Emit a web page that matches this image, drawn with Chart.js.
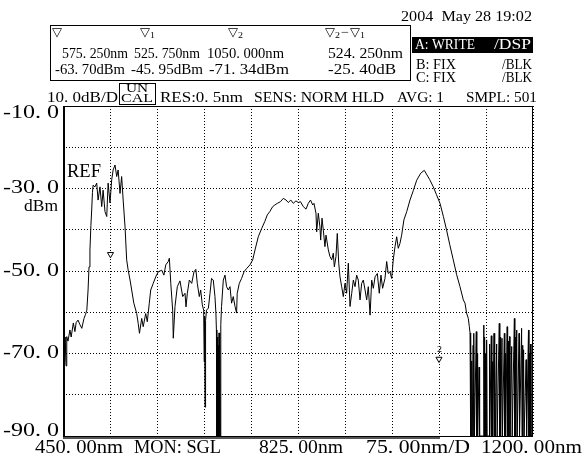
<!DOCTYPE html>
<html>
<head>
<meta charset="utf-8">
<script src="https://cdn.jsdelivr.net/npm/chart.js@4.4.1/dist/chart.umd.min.js"></script>
<style>
  body { margin: 0; background: #fff; }
  #wrap { width: 585px; height: 464px; }
</style>
</head>
<body>
<div id="wrap"><canvas id="osa" width="585" height="464"></canvas></div>
<script>
const wavelength = [
  450.0, 450.6, 451.6, 452.5, 453.5, 454.8, 456, 458, 461, 463,
  466.5, 469, 471, 474, 477, 480, 483.5, 486, 488, 490,
  491.5, 493, 494.5, 495.8, 497, 498, 501, 503.8, 506, 509,
  511.8, 514, 517, 519.8, 522, 525, 527.7, 530, 533, 535.7,
  538, 541, 543.6, 546, 549, 551.6, 554, 557, 559.6, 563,
  567.6, 570, 572, 575.6, 578, 582, 584.5, 587.7, 590, 594,
  598, 602, 607.5, 611, 614, 618, 619.7, 622, 625, 626,
  628.7, 632.4, 636.7, 641, 644.7, 646.3, 648.4, 651.6, 655.4, 659,
  662, 664.3, 667.5, 669.7, 672.3, 674.5, 675.3, 676, 676.6, 677.2,
  677.8, 679, 682, 684.6, 687, 689.8, 692.5, 694, 694.8, 695.5,
  696.2, 696.9, 697.6, 698.3, 699, 699.7, 700.4, 701.1, 701.8, 703,
  705.8, 708.5, 711, 713.8, 716.5, 719, 721.7, 724.5, 727, 728,
  731.3, 735, 738.8, 743, 748.4, 752.7, 756.4, 761.6, 767, 772,
  776, 780, 784.6, 788, 792, 797, 801.5, 806, 809.5, 813.5,
  817.5, 821.7, 825.5, 829, 833.5, 837.8, 841.4, 845, 848.5, 850.5,
  853.7, 854.8, 857.4, 860, 861.2, 863.3, 865.4, 868, 869.7, 873.4,
  876, 878.8, 881.3, 883, 885.6, 887.7, 890, 892, 894.7, 897.3,
  900, 902.6, 905.3, 908, 910.7, 913.3, 916, 918.6, 921.2, 924,
  926.6, 929.2, 932, 934.6, 937.2, 940, 942.6, 945.2, 948, 951.6,
  954.7, 957.4, 960, 963.8, 966.5, 969, 971.8, 974.5, 977, 979.8,
  982.5, 985, 987.7, 990.4, 994, 998.5, 1003.7, 1009, 1014.4, 1020.8,
  1026.5, 1030, 1035, 1040.9, 1046, 1051.6, 1057, 1062, 1067, 1072.8,
  1078, 1083.5, 1088.8, 1091.5, 1094, 1096.8, 1098.4, 1099.5, 1100.2, 1100.8,
  1101.5, 1102.2, 1103, 1104.5, 1105.2, 1105.8, 1106.5, 1109.5, 1110.3, 1110.9,
  1111.6, 1114, 1114.8, 1120.8, 1121.5, 1122.2, 1122.8, 1123.5, 1124.2, 1125,
  1126, 1126.8, 1130, 1130.5, 1131.2, 1133.5, 1134.3, 1135, 1135.7, 1137.8,
  1138.5, 1139.2, 1140, 1142, 1142.8, 1146.2, 1147, 1147.6, 1148.3, 1150.5,
  1151.2, 1154.3, 1155, 1155.6, 1156.3, 1158.8, 1159.5, 1160.2, 1161, 1162.5,
  1163.2, 1166, 1166.8, 1170.3, 1171, 1171.6, 1172.3, 1174, 1174.8, 1177.8,
  1178.5, 1181.8, 1182.5, 1183.2, 1184, 1185, 1185.8, 1189, 1189.8, 1192.8,
  1193.5, 1194.2, 1195, 1196, 1196.8, 1198.5, 1199.2, 1199.6, 1200
];
const power = [
  -90, -68, -67.5, -72, -66, -73, -65.9, -67, -64.3, -66,
  -62.6, -64.7, -62.5, -61.9, -63, -63.9, -61.5, -60.5, -59.5, -54.6,
  -49, -44.9, -39, -35.2, -31, -29.2, -29.6, -28.7, -32.8, -29.6,
  -34.4, -30.4, -35.6, -36.8, -28.7, -33.5, -27.9, -25.5, -24.3, -27.1,
  -25.5, -31.2, -27.1, -32.8, -39.3, -47.3, -49.8, -52.2, -54.6, -57.8,
  -60.3, -62.7, -65.1, -61.5, -63.5, -60.3, -62.3, -57.8, -54.6, -53,
  -51.4, -50.2, -49.8, -51, -48.5, -47.7, -46.9, -53, -59.5, -66.3,
  -58.6, -53.8, -52.4, -56.2, -55.4, -58.7, -55.4, -52.2, -53, -50.2,
  -49.6, -53, -56.2, -54.6, -58.2, -59.5, -72, -61, -83, -74,
  -62, -59.5, -59, -55.4, -51.8, -52.2, -56.2, -60.2, -64.3, -90,
  -66, -90, -68, -90, -65, -90, -67, -90, -63, -58.6,
  -52.2, -51, -53.8, -54.6, -53.8, -57.8, -56.2, -58.6, -60.2, -55.4,
  -53, -51.8, -50.2, -49.4, -48.5, -47.3, -44.9, -41.7, -39.7, -38,
  -36.4, -35.6, -34.4, -34, -33.6, -33.2, -32.4, -32.8, -33.4, -32.8,
  -33.6, -33, -33.4, -33.2, -34.4, -35, -33.6, -32.8, -34, -33.6,
  -36, -40.5, -36, -39.3, -42.5, -37.2, -40.1, -44.1, -41.3, -44.9,
  -46.5, -47.3, -45.7, -49, -46.5, -40.9, -48.1, -51.4, -53.8, -56.2,
  -53, -55.4, -48.1, -58.6, -55.4, -52.2, -53.8, -51, -52.2, -57,
  -53, -52.2, -54.6, -57, -53.8, -60.7, -52.2, -54.2, -51.4, -50.6,
  -55.4, -51, -54.2, -51.8, -47.7, -50.6, -50.2, -51.8, -47.3, -44.1,
  -41.7, -44.5, -43.3, -41.3, -37.6, -35.6, -32.8, -30.5, -28, -26.3,
  -25.6, -26.5, -27.8, -29.6, -31.5, -33.6, -36.8, -40, -43.5, -47.3,
  -50.8, -53.8, -57, -57.8, -60.2, -61.5, -63.5, -65, -90, -66,
  -90, -71.8, -90, -68, -90, -65.1, -90, -64.7, -90, -70,
  -90, -73.3, -90, -90, -63.1, -90, -66, -90, -70, -90,
  -66.7, -90, -90, -67.7, -90, -65.7, -90, -72, -90, -65.1,
  -90, -69, -90, -67.7, -90, -62.7, -90, -66, -90, -66.3,
  -90, -65.1, -90, -70, -90, -63.5, -90, -67, -90, -65.9,
  -90, -68.3, -90, -61.5, -90, -66, -90, -64.3, -90, -65.1,
  -90, -63.9, -90, -68, -90, -69.1, -90, -71.5, -90, -64.3,
  -90, -70, -90, -67.7, -90, -90, -62, -88, -64
];

// markers shown on the trace
const markerNm = [525.75, 1050.0];
const markerDbm = [-45.95, -71.34];
const markerTag = ['', '2'];

// axis
const yLabels = [-10, -30, -50, -70, -90];
const xMin = 450, xMax = 1200, xStep = 75;
const yMin = -90, yMax = -10, yStep = 10;

const FONT = '"Liberation Serif", "DejaVu Serif", serif';

// draws text squeezed/stretched between x1 and x2 (the OSA font is wide)
function put(ctx, s, x1, x2, y, size, color) {
  ctx.save();
  ctx.font = size + 'px ' + FONT;
  ctx.fillStyle = color || '#000';
  ctx.textBaseline = 'middle';
  ctx.textAlign = 'left';
  const w = ctx.measureText(s).width;
  ctx.translate(x1, y);
  ctx.scale((x2 - x1) / w, 1);
  ctx.fillText(s, 0, 0);
  ctx.restore();
}

function nabla(ctx, x, y, sub) {
  put(ctx, '▽', x, x + 10, y, 12);
  if (sub) put(ctx, sub, x + 10, x + 15, y + 3, 9);
}

const osaText = {
  id: 'osaText',
  afterDraw(chart) {
    const ctx = chart.ctx;
    const a = chart.chartArea;
    const ys = chart.scales.y;

    // frame
    ctx.save();
    ctx.strokeStyle = '#000';
    ctx.lineWidth = 1;
    ctx.strokeRect(a.left + 0.5, a.top + 0.5, a.right - a.left - 1, a.bottom - a.top);
    ctx.fillStyle = '#000';
    ctx.fillRect(a.left, a.top, 2, a.bottom - a.top + 1);
    ctx.fillStyle = '#555';
    ctx.fillRect(a.left, a.bottom + 1, 440 - a.left, 2);
    ctx.restore();

    // y labels
    yLabels.forEach(v => {
      let y = ys.getPixelForValue(v);
      y = Math.min(Math.max(y, a.top + 7), a.bottom - 5);
      put(ctx, v.toFixed(0) + '. 0', 3, 59, y, 18);
    });
    put(ctx, 'dBm', 24, 58, 207, 17);
    put(ctx, 'REF', 67, 101, 172, 18);

    // bottom line
    put(ctx, '450. 00nm', 35, 123, 448, 18);
    put(ctx, 'MON: SGL', 134, 221, 448, 18);
    put(ctx, '825. 00nm', 259, 343, 448, 18);
    put(ctx, '75. 00nm/D', 366, 470, 448, 18);
    put(ctx, '1200. 00nm', 481, 582, 448, 18);

    // header
    put(ctx, '2004  May 28 19:02', 401, 532, 17, 15);
    ctx.save();
    ctx.strokeStyle = '#000';
    ctx.strokeRect(50.5, 25.5, 360, 55);
    ctx.restore();
    nabla(ctx, 52, 33, '');
    nabla(ctx, 140, 33, '1');
    nabla(ctx, 228, 33, '2');
    nabla(ctx, 325, 33, '2');
    put(ctx, '−', 341, 349, 33, 12);
    nabla(ctx, 350, 33, '1');

    put(ctx, '575. 250nm', 62, 128, 54, 15);
    put(ctx, '525. 750nm', 134, 200, 54, 15);
    put(ctx, '1050. 000nm', 207, 284, 54, 15);
    put(ctx, '524. 250nm', 328, 403, 54, 15);
    put(ctx, '-63. 70dBm', 55, 125, 70, 15);
    put(ctx, '-45. 95dBm', 131, 203, 70, 15);
    put(ctx, '-71. 34dBm', 209, 289, 70, 15);
    put(ctx, '-25. 40dB', 328, 396, 70, 15);

    ctx.fillStyle = '#000';
    ctx.fillRect(412, 37, 121, 16);
    put(ctx, 'A: WRITE', 415, 475, 45, 15, '#fff');
    put(ctx, '/DSP', 494, 531, 45, 15, '#fff');
    put(ctx, 'B: FIX', 416, 456, 65, 15);
    put(ctx, '/BLK', 502, 532, 65, 15);
    put(ctx, 'C: FIX', 416, 456, 78, 15);
    put(ctx, '/BLK', 502, 532, 78, 15);

    put(ctx, '10. 0dB/D', 47, 118, 98, 15);
    ctx.save();
    ctx.strokeStyle = '#000';
    ctx.strokeRect(119.5, 83.5, 36, 21);
    ctx.restore();
    put(ctx, 'UN', 126, 148, 89, 13);
    put(ctx, 'CAL', 121, 153, 99, 13);
    put(ctx, 'RES:0. 5nm', 160, 243, 98, 15);
    put(ctx, 'SENS: NORM HLD', 254, 384, 98, 15);
    put(ctx, 'AVG: 1', 397, 444, 98, 15);
    put(ctx, 'SMPL: 501', 466, 537, 98, 15);

    // marker tags
    markerTag.forEach((t, i) => {
      if (!t) return;
      const px = chart.scales.x.getPixelForValue(markerNm[i]);
      const py = ys.getPixelForValue(markerDbm[i]);
      put(ctx, t, px - 2, px + 3, py - 9, 9);
    });
  }
};

const trace = wavelength.map((w, i) => ({ x: w, y: power[i] }));
const marks = markerNm.map((w, i) => ({ x: w, y: markerDbm[i] }));

new Chart(document.getElementById('osa'), {
  type: 'line',
  data: {
    datasets: [
      {
        data: trace,
        borderColor: '#000',
        borderWidth: 1,
        pointRadius: 0,
        tension: 0,
        fill: false
      },
      {
        type: 'scatter',
        data: marks,
        pointStyle: 'triangle',
        rotation: 180,
        pointRadius: 3.5,
        backgroundColor: '#fff',
        borderColor: '#000',
        borderWidth: 1
      }
    ]
  },
  options: {
    responsive: false,
    animation: false,
    events: [],
    layout: { padding: { top: 106, right: 52, left: 0, bottom: 0 } },
    plugins: { legend: { display: false }, tooltip: { enabled: false } },
    scales: {
      x: {
        type: 'linear', min: xMin, max: xMax,
        ticks: { display: false, stepSize: xStep },
        grid: { color: '#000', lineWidth: 1, drawTicks: false },
        border: { display: false, dash: [1, 2] },
        afterFit: s => { s.height = 28; }
      },
      y: {
        type: 'linear', min: yMin, max: yMax,
        ticks: { display: false, stepSize: yStep },
        grid: { color: '#000', lineWidth: 1, drawTicks: false },
        border: { display: false, dash: [1, 2] },
        afterFit: s => { s.width = 63; }
      }
    }
  },
  plugins: [osaText]
});
</script>
</body>
</html>
